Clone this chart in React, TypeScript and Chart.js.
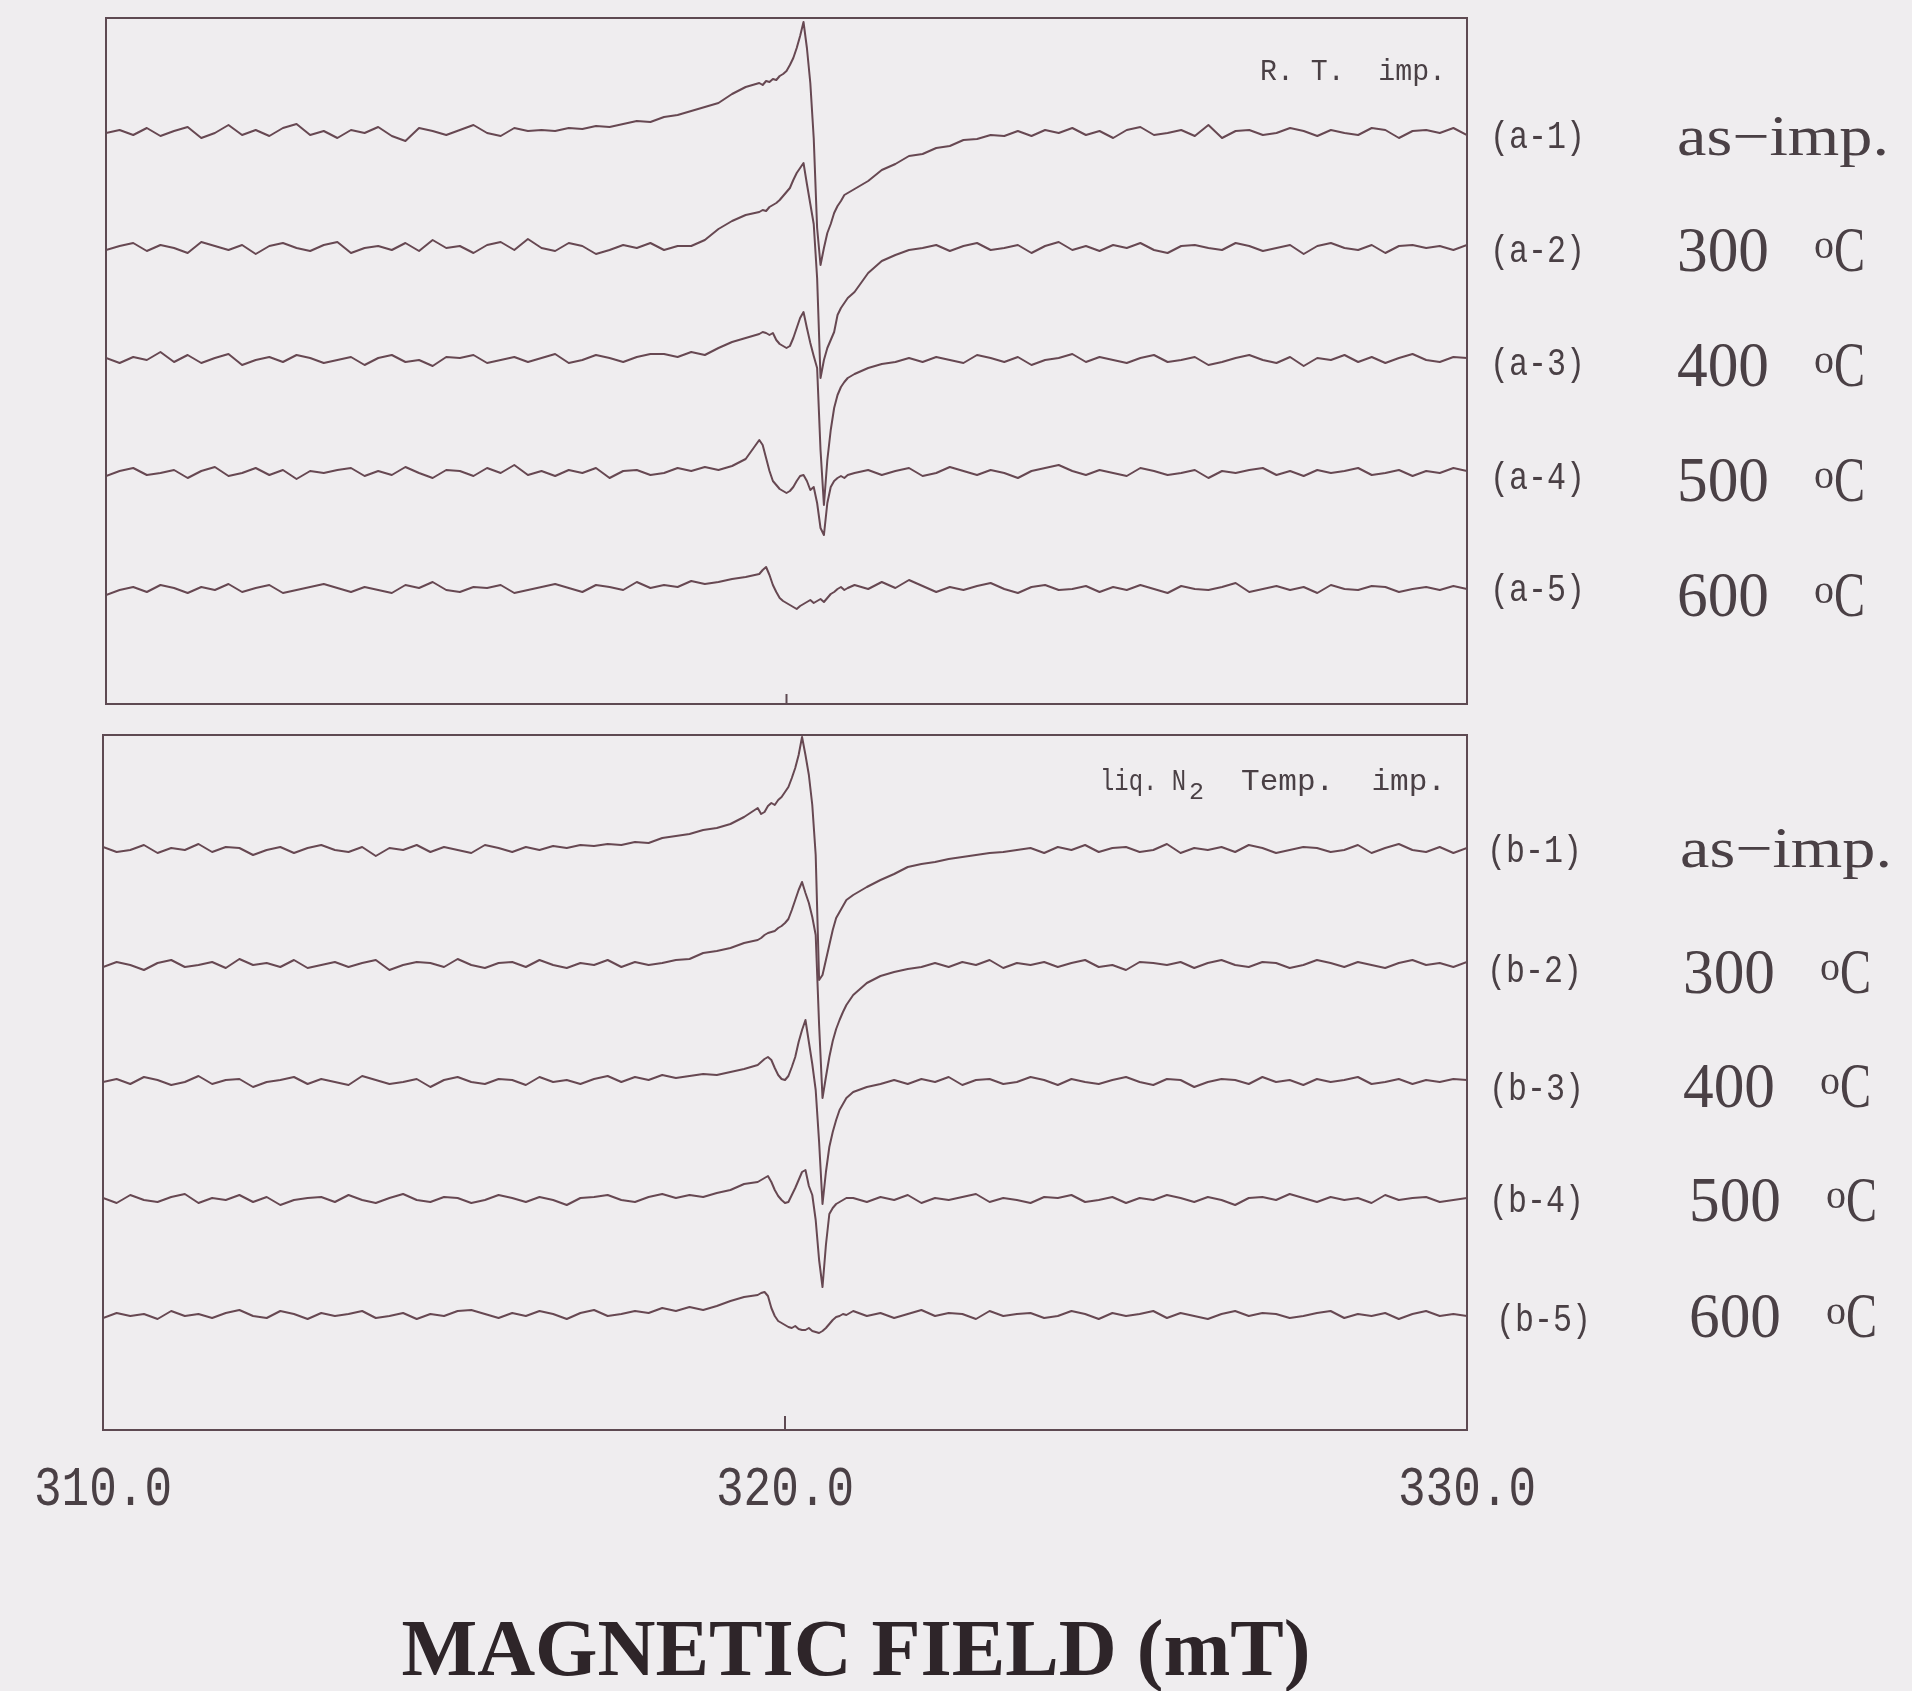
import { useEffect, useRef } from "react";
import { Chart, registerables } from "chart.js";

Chart.register(...registerables);

// ---------------- data ----------------
// magnetic field sampling (mT)
const fieldLow = [310.0, 310.2, 310.4, 310.6, 310.8, 311.0, 311.2, 311.4, 311.6, 311.8, 312.0, 312.2, 312.4, 312.6, 312.8, 313.0, 313.2, 313.4, 313.6, 313.8, 314.0, 314.2, 314.4, 314.6, 314.8, 315.0, 315.2, 315.4, 315.6, 315.8, 316.0, 316.2, 316.4, 316.6, 316.8, 317.0, 317.2, 317.4, 317.6, 317.8, 318.0, 318.2, 318.4, 318.6, 318.8, 319.0, 319.2, 319.4];
const fieldCenter = [319.6, 319.65, 319.7, 319.75, 319.8, 319.85, 319.9, 319.95, 320.0, 320.05, 320.1, 320.15, 320.2, 320.25, 320.3, 320.35, 320.4, 320.45, 320.5, 320.55, 320.6, 320.65, 320.7, 320.75, 320.8, 320.85, 320.9];
const fieldHigh = [321.0, 321.2, 321.4, 321.6, 321.8, 322.0, 322.2, 322.4, 322.6, 322.8, 323.0, 323.2, 323.4, 323.6, 323.8, 324.0, 324.2, 324.4, 324.6, 324.8, 325.0, 325.2, 325.4, 325.6, 325.8, 326.0, 326.2, 326.4, 326.6, 326.8, 327.0, 327.2, 327.4, 327.6, 327.8, 328.0, 328.2, 328.4, 328.6, 328.8, 329.0, 329.2, 329.4, 329.6, 329.8, 330.0];

// EPR derivative intensities (arb. units), panel (a): R.T. implantation
const a1 = [
  0, 3, -2, 5, -3, 2, 6, -5, 0, 8, -2, 3, -3, 5, 9, -2, 2, -5, 3, 0, 6, -3, -8, 5, 2, -2, 3, 8, 0, -3, 5, 2,
  3, 2, 5, 4, 7, 6, 9, 12, 11, 16, 18, 22, 26, 30, 39, 46,
  50, 48, 52, 51, 54, 53, 57, 59, 62, 68, 75, 85, 97, 111, 85, 50, -5, -95, -132, -115, -100, -91, -80, -73, -68, -62, -60,
  -56, -48, -37, -31, -23, -21, -15, -13, -7, -6, -2, -3,
  2, -3, 3, 0, 5, -2, 2, -5, 3, 6, -2, 0, 3, -3, 8, -5, 2, 3, -2, 0, 5, 2, -3, 3, 0, -2, 5, 3, -5, 2, 3, 0, 5, -2,
];
const a2 = [
  -2, 2, 5, -3, 3, 0, -5, 6, 2, -2, 3, -6, 2, 5, 0, -3, 3, 6, -5, 0, 2, -2, 5, -3, 8, 0, 2, -5, 3, 6, -2, 9, 0, -3, 5, 2, -6, -2, 3, 0, 5, -2, 2,
  2, 8, 19, 27, 33,
  36, 38, 37, 41, 43, 45, 48, 52, 56, 60, 68, 75, 80, 85, 64, 44, 24, -30, -130, -112, -100, -92, -84, -67, -60, -55, -50,
  -44, -25, -13, -7, -2,
  0, 3, -3, 2, 5, -2, 0, 3, -5, 2, 6, -2, 2, -3, 3, 0, 5, -2, -5, 2, 3, 0, -2, 5, 2, -3, 0, 3, -6, 2, 5, 0, -2, 3, -5, 2, 3, 0, 2, -2, 3,
];
const a3 = [
  2, -3, 3, 0, 8, -2, 5, -3, 2, 6, -5, 0, 3, -2, 5, 2, -3, 0, 3, -5, 2, 5, -2, 0, -6, 3, 2, 5, -3, 0, 3, -2, 2, 6, -3, 0, 5, 2, -2, 3, 6,
  6, 3, 8, 5, 12, 18, 22,
  26, 28, 27, 25, 27, 20, 16, 14, 12, 14, 22, 32, 42, 48, 32, 17, 4, -8, -90, -145, -100, -70, -48, -35, -27, -22, -18,
  -14, -8, -4, -2,
  2, -2, 3, 0, -3, 5, 2, -2, 3, -5, 0, 2, 6, -2, 3, 0, -3, 2, 5, -2, 0, 3, -5, -2, 2, 5, 0, -3, 3, -6, 2, 0, 5, -2, 3, -3, 2, 6, 0, -2, 3, 2,
];
const a4 = [
  -3, 2, 5, -2, 0, 3, -5, 2, 6, -3, 0, 5, -2, 3, -6, 2, 0, 3, 5, -3, 2, -2, 6, 0, -5, 3, 2, -3, 5, 0, 8, -2, 2, -3, 3, 0, 5, -5, 2, 3, -2, 0, 5, 2, 6, 3,
  7, 14,
  33, 28, 15, 2, -8, -12, -16, -18, -20, -18, -14, -8, -3, -2, -8, -17, -14, -30, -55, -62, -30, -14, -8, -5, -3, -5, -2,
  0, 3, -2, 2, 5, -3, 0, 6, 2, -2, 3, 0, -5, 2, 5, 8, 2, -2, 3, 0, -3, 5, 2, -2, 0, 3, -5, 2, 0, 3, 5, -2, 2, -3, 3, 0, 2, 5, -2, 0, 3, -3, 2, 0, 5, 2,
];
const a5 = [
  -5, 0, 3, -2, 5, 2, -3, 3, 0, 6, -2, 2, 5, -3, 0, 3, 6, 2, -2, 3, 0, -3, 5, 2, 8, 0, -2, 3, 2, 5, -3, 0, 3, 6, 2, -2, 5, 3, 0, 8, 2, 5, 3, 9, 6,
  8, 11, 13,
  16, 20, 23, 15, 5, -2, -8, -11, -13, -15, -17, -19, -16, -14, -12, -10, -13, -11, -9, -12, -8, -4, -2, 1, 3, 0, 2,
  5, 1, 8, 2, 10, 4, -2, 3, 0, 4, 7, 1, -3, 3, 5, 0, 1, 4, -2, 3, 0, 5, 1, -3, 4, 1, 0, 3, 7, -2, 1, 4, 0, 3, -3, 5, 1, 0, 4, 3, -2, 1, 3, 0, 4, 1,
];

// panel (b): liq. N2 temperature implantation
const b1 = [
  3, -2, 0, 5, -3, 2, 0, 6, -2, 3, 2, -5, 0, 3, -3, 2, 5, 0, -2, 3, -6, 2, 0, 5, -2, 3, 0, -3, 5, 2, -2, 3, 0,
  4, 2, 5, 4, 6, 5, 8, 7, 12, 14, 16, 20, 22, 26, 33,
  42, 36, 38, 44, 47, 45, 50, 53, 58, 63, 72, 82, 95, 113, 95, 75, 45, -5, -130, -125, -110, -95, -80, -68, -62, -56, -50,
  -45, -37, -30, -24, -17, -14, -12, -9, -7, -5, -3, -2,
  0, 2, -3, 3, 0, 5, -2, 2, 3, -2, 0, 6, -3, 2, 0, 3, -2, 5, 2, -3, 0, 3, 2, -2, 0, 5, -3, 2, 6, 0, -2, 3, -3, 2,
];
const b2 = [
  -2, 3, 0, -5, 2, 5, -2, 0, 3, -3, 6, 0, 2, -2, 5, -3, 0, 3, -2, 2, 5, -5, 0, 3, 2, -2, 6, 0, -3, 2, 3, -2, 5, 0, -3, 2, 0, 5, -2, 3, 0, 2,
  5, 6, 12, 14, 17, 22,
  25, 27, 30, 32, 33, 34, 37, 39, 42, 46, 55, 65, 75, 83, 72, 62, 48, 30, -60, -133, -112, -92, -76, -64, -55, -47, -40,
  -30, -18, -11, -7, -4, -2,
  2, -2, 3, 0, 5, -3, 2, 0, 3, -2, 2, 5, -2, 0, -5, 3, 2, 0, 3, -3, 2, 5, 0, -2, 3, 2, -3, 0, 5, 2, -2, 3, 0, -3, 2, 5, 0, 2, -2, 3,
];
const b3 = [
  0, 3, -2, 5, 2, -3, 0, 6, -2, 2, 3, -5, 0, 2, 5, -2, 3, 0, -3, 6, 2, -2, 0, 3, -5, 2, 5, 0, -2, 3, 2, -3, 5, 0, 2, -2, 3, 6, 0, 5, 2, 7, 4,
  6, 8, 7, 10, 13,
  17, 20, 23, 25, 22, 14, 7, 3, 2, 6, 15, 25, 40, 52, 62, 40, 18, -8, -60, -122, -90, -65, -50, -38, -28, -22, -16,
  -10, -5, -2,
  2, -2, 3, 0, 5, -3, 2, 3, -2, 0, 5, 2, -3, 3, 0, -2, 2, 5, 0, -3, 3, 2, -5, 0, 3, 2, -2, 5, 0, 2, -3, 3, 0, 2, 5, -2, 0, 3, -2, 2, 0, 3, 2,
];
const b4 = [
  2, -3, 5, 0, -2, 3, 6, -3, 2, 0, 5, -2, 3, -5, 0, 2, 3, -2, 5, 0, -3, 2, 6, 0, -2, 3, 2, -3, 0, 5, 2, -2, 3, 0, -5, 2, 3, 5, 0, -2, 3, 6, 2, 5, 3, 7,
  10, 16,
  18, 20, 22, 24, 18, 10, 4, 0, -3, -2, 5, 12, 20, 28, 30, 14, 5, -20, -60, -87, -45, -14, -8, -4, -2, 0, 2,
  2, -2, 3, 0, 5, -3, 2, 0, 3, 6, -2, 2, 0, -3, 3, 2, 5, -2, 0, 3, -3, 2, 0, 5, 2, -2, 3, 0, -5, 2, 3, 0, 6, 2, -2, 3, 0, 2, -3, 5, 0, 2, 3, -2, 0, 2,
];
const b5 = [
  -2, 3, 0, 2, -3, 5, 0, 2, -2, 3, 6, 0, -2, 5, 2, -3, 3, 0, 2, 5, -2, 0, 3, -3, 2, 0, 5, 6, 2, -2, 3, 0, 5, 2, -3, 3, 6, 0, 2, 5, 3, 8, 5, 9, 6,
  10, 15, 19,
  21, 23, 24, 20, 8, 0, -5, -7, -9, -11, -12, -10, -13, -14, -14, -12, -15, -16, -17, -15, -12, -8, -4, -1, 0, 2, 1,
  5, 0, 3, -2, 2, 6, 0, 3, 2, -3, 5, 0, 2, 3, -2, 0, 5, 2, -3, 3, 0, 2, 5, -2, 3, 0, -3, 2, 5, 0, 3, 2, -2, 0, 3, 5, -2, 2, 0, 3, -3, 2, 5, 0, 2, 0,
];

// vertical stacking offsets of each spectrum (same arb. units)
const offsetsA = [571, 456, 344, 231, 114];
const offsetsB = [580, 465, 348, 230, 114];

// texts
const labelsA = ["(a-1)", "(a-2)", "(a-3)", "(a-4)", "(a-5)"];
const labelsB = ["(b-1)", "(b-2)", "(b-3)", "(b-4)", "(b-5)"];
const treatments = ["as\u2212imp.", "300", "400", "500", "600"];
const degreeMark = "o";
const celsius = "C";
const noteA = "R. T.  imp.";
const noteB = ["liq. N", "2", "Temp.  imp."];
const xTicks = [310, 320, 330];
const xTitle = "MAGNETIC FIELD (mT)";

// ---------------- styles / layout ----------------
const BG = "#efedef";
const LINE = "#674852";
const FRAME = "#5e4a52";
const TEXT = "#4a4045";
const MONO = "'Liberation Mono', 'DejaVu Sans Mono', monospace";
const SERIF = "'Liberation Serif', 'DejaVu Serif', serif";

const TOP_H = 720;
const BOT_TOP = 718;
const BOT_H = 1691 - BOT_TOP;

const field = [...fieldLow, ...fieldCenter, ...fieldHigh];

function fitText(
  ctx: CanvasRenderingContext2D,
  text: string,
  x: number,
  y: number,
  font: string,
  width: number,
  align: "left" | "center" = "left"
) {
  ctx.save();
  ctx.font = font;
  ctx.textAlign = "left";
  ctx.textBaseline = "alphabetic";
  const w = ctx.measureText(text).width || 1;
  const sx = width / w;
  const x0 = align === "center" ? x - width / 2 : x;
  ctx.translate(x0, y);
  ctx.scale(sx, 1);
  ctx.fillText(text, 0, 0);
  ctx.restore();
}

function drawTreatment(ctx: CanvasRenderingContext2D, idx: number, x: number, base: number) {
  if (idx === 0) {
    fitText(ctx, treatments[0], x, base, `56px ${SERIF}`, 212);
    return;
  }
  fitText(ctx, treatments[idx], x, base, `64px ${SERIF}`, 92);
  fitText(ctx, degreeMark, x + 137, base - 13, `40px ${SERIF}`, 20);
  fitText(ctx, celsius, x + 157, base, `64px ${SERIF}`, 31);
}

function framePlugin(tickLen: number) {
  return {
    id: "frame" + tickLen,
    afterDatasetsDraw(chart: any) {
      const { ctx, chartArea, scales } = chart;
      const { left, top, right, bottom } = chartArea;
      ctx.save();
      ctx.strokeStyle = FRAME;
      ctx.lineWidth = 2;
      ctx.strokeRect(left, top, right - left, bottom - top);
      const px = scales.x.getPixelForValue(xTicks[1]);
      ctx.beginPath();
      ctx.moveTo(px, bottom);
      ctx.lineTo(px, bottom - tickLen);
      ctx.stroke();
      ctx.restore();
    },
  };
}

const textPluginA = {
  id: "textsA",
  afterDraw(chart: any) {
    const ctx: CanvasRenderingContext2D = chart.ctx;
    ctx.save();
    ctx.fillStyle = TEXT;
    fitText(ctx, noteA, 1260, 80, `30px ${MONO}`, 186);
    const labelBase = [148, 262, 375, 489, 601];
    labelsA.forEach((t, i) => fitText(ctx, t, 1490, labelBase[i], `38px ${MONO}`, 95));
    const treatBase = [155, 271, 386, 501, 616];
    treatments.forEach((_, i) => drawTreatment(ctx, i, 1677, treatBase[i]));
    ctx.restore();
  },
};

const textPluginB = {
  id: "textsB",
  afterDraw(chart: any) {
    const ctx: CanvasRenderingContext2D = chart.ctx;
    const o = BOT_TOP;
    ctx.save();
    ctx.fillStyle = TEXT;
    fitText(ctx, noteB[0], 1100, 790 - o, `30px ${MONO}`, 86);
    fitText(ctx, noteB[1], 1189, 799 - o, `24px ${MONO}`, 15);
    fitText(ctx, noteB[2], 1241, 790 - o, `30px ${MONO}`, 205);
    const labelX = [1487, 1487, 1489, 1489, 1496];
    const labelBase = [862, 982, 1100, 1212, 1331];
    labelsB.forEach((t, i) => fitText(ctx, t, labelX[i], labelBase[i] - o, `38px ${MONO}`, 95));
    const treatX = [1680, 1683, 1683, 1689, 1689];
    const treatBase = [867, 993, 1107, 1221, 1337];
    treatments.forEach((_, i) => drawTreatment(ctx, i, treatX[i], treatBase[i] - o));
    const xs = chart.scales.x;
    xTicks.forEach((v) =>
      fitText(ctx, v.toFixed(1), xs.getPixelForValue(v), 1505 - o, `56px ${MONO}`, 138, "center")
    );
    ctx.fillStyle = "#2e2529";
    fitText(ctx, xTitle, 856, 1675 - o, `bold 80px ${SERIF}`, 909, "center");
    ctx.restore();
  },
};

function buildDatasets(series: number[][], offsets: number[]) {
  return series.map((s, i) => ({
    data: field.map((x, j) => ({ x, y: s[j] + offsets[i] })),
    borderColor: LINE,
    borderWidth: 2,
    pointRadius: 0,
    tension: 0,
    fill: false,
    borderJoinStyle: "round" as const,
  }));
}

function makeConfig(
  series: number[][],
  offsets: number[],
  padding: { left: number; right: number; top: number; bottom: number },
  yMax: number,
  plugins: any[]
): any {
  return {
    type: "line",
    data: { datasets: buildDatasets(series, offsets) },
    options: {
      responsive: false,
      animation: false,
      devicePixelRatio: 1,
      events: [],
      layout: { padding },
      scales: {
        x: { type: "linear", min: 310, max: 330, display: false },
        y: { type: "linear", min: 0, max: yMax, display: false },
      },
      plugins: { legend: { display: false }, tooltip: { enabled: false } },
    },
    plugins,
  };
}

export default function App() {
  const refA = useRef<HTMLCanvasElement | null>(null);
  const refB = useRef<HTMLCanvasElement | null>(null);

  useEffect(() => {
    if (!refA.current || !refB.current) return;
    const chartA = new Chart(
      refA.current,
      makeConfig(
        [a1, a2, a3, a4, a5],
        offsetsA,
        { left: 106, right: 1912 - 1467, top: 18, bottom: TOP_H - 704 },
        686,
        [framePlugin(10), textPluginA]
      )
    );
    const chartB = new Chart(
      refB.current,
      makeConfig(
        [b1, b2, b3, b4, b5],
        offsetsB,
        { left: 103, right: 1912 - 1467, top: 735 - BOT_TOP, bottom: BOT_H - (1430 - BOT_TOP) },
        695,
        [framePlugin(14), textPluginB]
      )
    );
    return () => {
      chartA.destroy();
      chartB.destroy();
    };
  }, []);

  return (
    <div
      style={{
        position: "absolute",
        left: 0,
        top: 0,
        width: 1912,
        height: 1691,
        background: BG,
        overflow: "hidden",
      }}
    >
      <canvas
        ref={refA}
        width={1912}
        height={TOP_H}
        style={{ position: "absolute", left: 0, top: 0, width: 1912, height: TOP_H }}
      />
      <canvas
        ref={refB}
        width={1912}
        height={BOT_H}
        style={{ position: "absolute", left: 0, top: BOT_TOP, width: 1912, height: BOT_H }}
      />
    </div>
  );
}
